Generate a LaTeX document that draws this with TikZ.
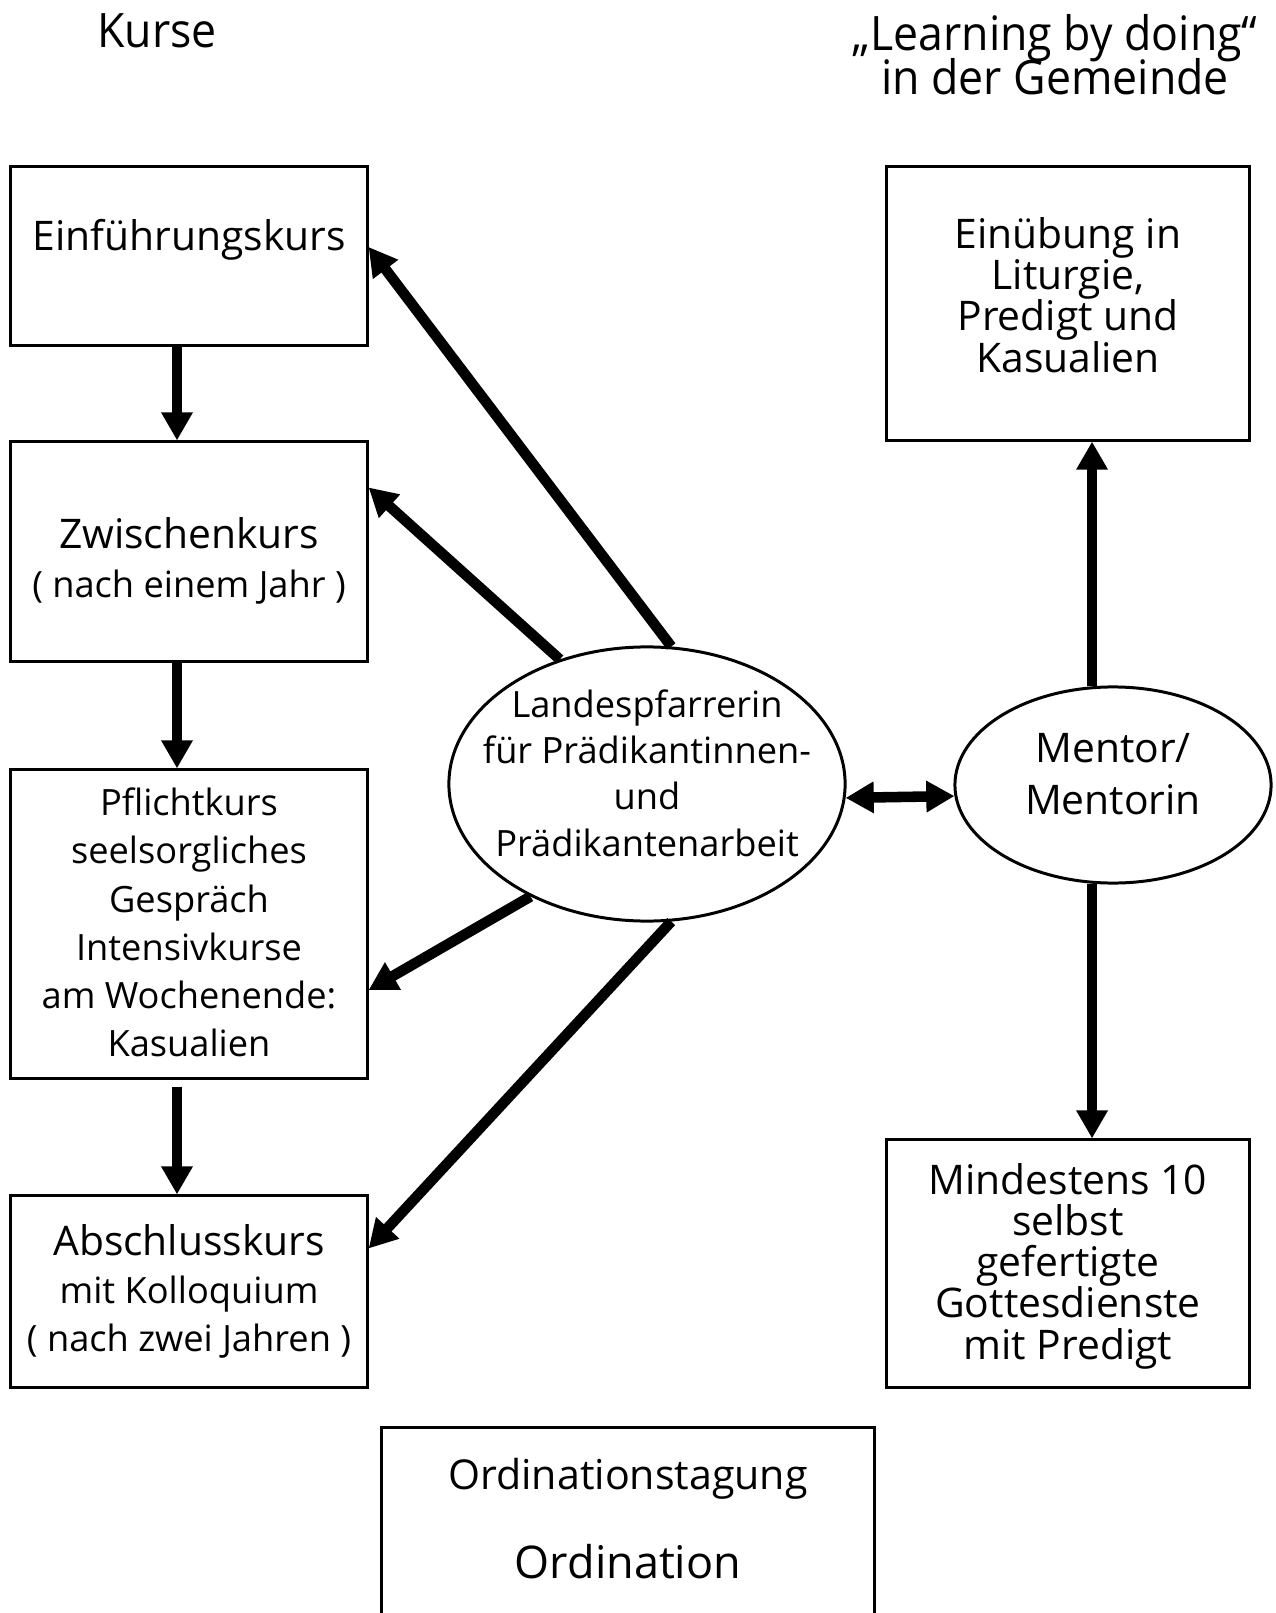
\documentclass[tikz,border=0pt]{standalone}
\usepackage{fontspec}
\setmainfont{Open Sans}
\usetikzlibrary{shapes.geometric,arrows.meta}

\newcommand\gross{\fontsize{11.6}{11.7}\selectfont}
\newcommand\mittel{\fontsize{11.6}{14.6}\selectfont}
\newcommand\klein{\fontsize{10.3}{13.7}\selectfont}
\newcommand\titel{\fontsize{13.5}{12.5}\selectfont}
\lineskiplimit=-20pt
\lineskip=0pt

\tikzset{
  kasten/.style={draw,line width=0.85pt,align=center,inner sep=0pt,font=\gross},
  oval/.style={ellipse,draw,line width=0.85pt,align=center,inner sep=0pt},
  pfeil/.style={line width=3pt,-{Triangle[length=8pt,width=8.5pt]}},
  doppelpfeil/.style={line width=3pt,{Triangle[length=8pt,width=8.5pt]}-{Triangle[length=8pt,width=8.5pt]}},
}

\begin{document}
\begin{tikzpicture}[x=0.01cm,y=-0.01cm]
\useasboundingbox (0,0) rectangle (1275,1613);
      \coordinate (K) at (157,31);
         \coordinate (L) at (1055,55);
           \coordinate (E1) at (189,256);
            \coordinate (E2) at (189,551.5);
              \coordinate (E3) at (189,924);
                 \coordinate (E4) at (189,1291.5);
                   \coordinate (R1) at (1068,303.5);
                     \coordinate (R2) at (1068,1263.5);
                   \coordinate (O) at (628,1524);
                 \coordinate (LP) at (647,784);
              \coordinate (M) at (1113,785);
  \node (kurse) at (K)[font=\titel,xscale=0.94,transform shape]{Kurse};
  \node (lbd) at (L)[font=\titel,align=center,xscale=0.94,transform shape]{„Learning by doing“\\in der Gemeinde};
  \node (einf) at (E1)[kasten,text height=0.31cm,text depth=0.41cm,minimum width=3.56cm,minimum height=1.78cm]{Einführungskurs};
  \node (zwisch) at (E2)[kasten,font=\fontsize{11.6}{14}\selectfont,text height=1.02cm,text depth=0.1cm,minimum width=3.56cm,minimum height=2.19cm]{Zwischenkurs\\{\klein( nach einem Jahr )}};
  \node (pflicht) at (E3)[kasten,font=\klein,text height=2.68cm,text depth=0.03cm,minimum width=3.56cm,minimum height=3.08cm]{Pflichtkurs\\seelsorgliches\\Gespräch\\Intensivkurse\\am Wochenende:\\Kasualien};
  \node (absch) at (E4)[kasten,font=\fontsize{11.6}{13.6}\selectfont,text height=1.27cm,text depth=0.08cm,minimum width=3.56cm,minimum height=1.91cm]{Abschlusskurs\\{\klein mit Kolloquium}\\{\klein( nach zwei Jahren )}};
  \node (einueb) at (R1)[kasten,text height=1.54cm,text depth=0.17cm,minimum width=3.62cm,minimum height=2.73cm]{Einübung in\\Liturgie,\\Predigt und\\Kasualien};
  \node (mindest) at (R2)[kasten,text height=1.96cm,text depth=0.05cm,minimum width=3.62cm,minimum height=2.47cm]{Mindestens 10\\selbst\\gefertigte\\Gottesdienste\\mit Predigt};
  \node (ord) at (O)[kasten,font=\fontsize{12.8}{25.3}\selectfont,text height=1.2cm,text depth=0.12cm,minimum width=4.92cm,minimum height=1.92cm]{{\fontsize{11.7}{25.3}\selectfont Ordinationstagung}\\Ordination};
  \node (landes) at (LP)[oval,font=\fontsize{10.3}{13.1}\selectfont,inner xsep=-0.3cm,text height=1.66cm,text depth=0.22cm,minimum width=3.96cm,minimum height=2.74cm]{Landespfarrerin\\für Prädikantinnen-\\und\\Prädikantenarbeit};
  \node (mentor) at (M)[oval,font=\mittel,text height=0.82cm,text depth=0.24cm,minimum width=3.16cm,minimum height=1.96cm]{Mentor/\\Mentorin};
  \draw[pfeil] ([xshift=-0.12cm]einf.south)--([xshift=-0.12cm]zwisch.north);
  \draw[pfeil] ([xshift=-0.12cm]zwisch.south)--([xshift=-0.12cm]pflicht.north);
  \draw[pfeil,shorten <=0.07cm] ([xshift=-0.12cm]pflicht.south)--([xshift=-0.12cm]absch.north);
  \draw[pfeil] (landes.80)--([yshift=0.09cm]einf.east);
  \draw[pfeil] (landes.125)--([yshift=0.64cm]zwisch.east);
  \draw[pfeil] (landes.224)--([yshift=-0.66cm]pflicht.east);
  \draw[pfeil] (landes.280)--([yshift=0.43cm]absch.east);
  \draw[doppelpfeil] (landes.-4)--(mentor.184);
  \draw[pfeil] (mentor.102)--(mentor.102 |- einueb.south);
  \draw[pfeil] (mentor.258)--(mentor.258 |- mindest.north);
\end{tikzpicture}
\end{document}
